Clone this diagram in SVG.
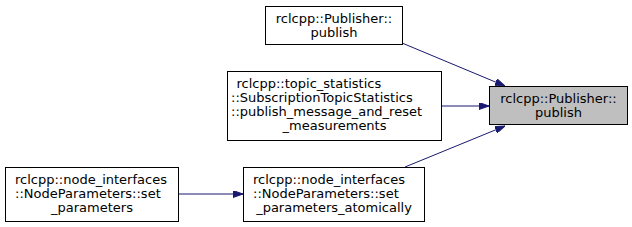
<svg xmlns="http://www.w3.org/2000/svg" width="632" height="227" viewBox="0 0 632 227">
<defs>
<style>
.box{fill:#fff;stroke:#000;stroke-width:1}
.hl{fill:#bfbfbf;stroke:#000;stroke-width:1}
text{font-family:"DejaVu Sans",sans-serif;font-size:13px;fill:#000;text-anchor:middle}
text.l{text-anchor:start}
.edge{fill:none;stroke:#191970;stroke-width:1}
</style>
<marker id="arr" viewBox="0 0 10 7" refX="10" refY="3.5" markerWidth="10" markerHeight="7" markerUnits="userSpaceOnUse" orient="auto">
<path d="M0,0 L10,3.5 L0,7 Z" fill="#191970" stroke="#191970"/>
</marker>
</defs>
<g id="connectors">
<path class="edge" d="M402,43 L505,86" marker-end="url(#arr)"/>
<path class="edge" d="M442,106 L489,106" marker-end="url(#arr)"/>
<path class="edge" d="M405,167 L505,126" marker-end="url(#arr)"/>
<path class="edge" d="M178,194 L243,194" marker-end="url(#arr)"/>
</g>
<g id="node_target">
<rect class="hl" x="489.5" y="86.5" width="138" height="38"/>
<text x="558.5" y="103">rclcpp::Publisher::</text>
<text x="558.5" y="117">publish</text>
</g>
<g id="node_publisher_publish">
<rect class="box" x="265.5" y="6.5" width="137" height="38"/>
<text x="334" y="23">rclcpp::Publisher::</text>
<text x="334" y="37">publish</text>
</g>
<g id="node_topic_stats">
<rect class="box" x="227.5" y="71.5" width="214" height="69"/>
<text class="l" x="236.5" y="88">rclcpp::topic_statistics</text>
<text class="l" x="231" y="102">::SubscriptionTopicStatistics</text>
<text class="l" x="231" y="116">::publish_message_and_reset</text>
<text x="334.5" y="130">_measurements</text>
</g>
<g id="node_set_params_atomically">
<rect class="box" x="243.5" y="167.5" width="181" height="54"/>
<text class="l" x="253" y="184">rclcpp::node_interfaces</text>
<text class="l" x="253" y="198">::NodeParameters::set</text>
<text x="334" y="212">_parameters_atomically</text>
</g>
<g id="node_set_params">
<rect class="box" x="5.5" y="167.5" width="173" height="54"/>
<text class="l" x="15" y="184">rclcpp::node_interfaces</text>
<text class="l" x="15" y="198">::NodeParameters::set</text>
<text x="92" y="212">_parameters</text>
</g>
</svg>
